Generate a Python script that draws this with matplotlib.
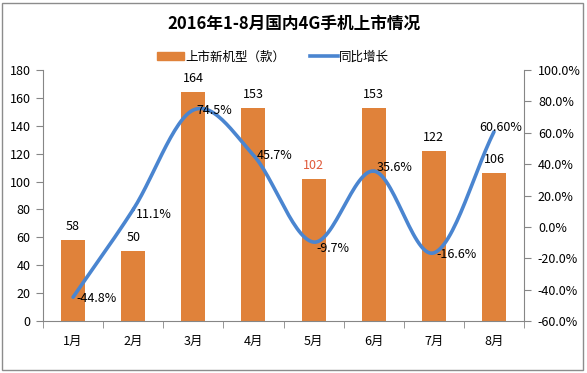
import numpy as np
import matplotlib
matplotlib.use("Agg")
import matplotlib.pyplot as plt
from matplotlib.patches import Rectangle
from matplotlib.lines import Line2D

plt.rcParams['font.family'] = ['Noto Sans CJK SC', 'DejaVu Sans']

months = ["1月", "2月", "3月", "4月", "5月", "6月", "7月", "8月"]
new_models = [58, 50, 164, 153, 102, 153, 122, 106]
growth = [-44.8, 11.1, 74.5, 45.7, -9.7, 35.6, -16.6, 60.6]
growth_labels = ["-44.8%", "11.1%", "74.5%", "45.7%", "-9.7%", "35.6%", "-16.6%", "60.60%"]

bar_color = "#E0823A"
line_color = "#4A85D0"
axis_color = "#868686"


def smooth(xs, ys, n=30):
    # catmull-rom, roughly what excel does for "smoothed line"
    xs = np.asarray(xs, float)
    ys = np.asarray(ys, float)
    px = np.concatenate([[2 * xs[0] - xs[1]], xs, [2 * xs[-1] - xs[-2]]])
    py = np.concatenate([[2 * ys[0] - ys[1]], ys, [2 * ys[-1] - ys[-2]]])
    outx, outy = [], []
    t = np.linspace(0, 1, n)
    for i in range(1, len(px) - 2):
        p0, p1, p2, p3 = px[i - 1], px[i], px[i + 1], px[i + 2]
        q0, q1, q2, q3 = py[i - 1], py[i], py[i + 1], py[i + 2]
        bx = 0.5 * (2 * p1 + (-p0 + p2) * t + (2 * p0 - 5 * p1 + 4 * p2 - p3) * t**2 + (-p0 + 3 * p1 - 3 * p2 + p3) * t**3)
        by = 0.5 * (2 * q1 + (-q0 + q2) * t + (2 * q0 - 5 * q1 + 4 * q2 - q3) * t**2 + (-q0 + 3 * q1 - 3 * q2 + q3) * t**3)
        outx.extend(bx)
        outy.extend(by)
    return np.array(outx), np.array(outy)


fig = plt.figure(figsize=(5.87, 3.73), dpi=100)
fig.patches.append(Rectangle((0.004, 0.008), 0.99, 0.985, transform=fig.transFigure,
                             fill=False, edgecolor="#8C8C8C", linewidth=1.0))

ax = fig.add_axes([0.0733, 0.1394, 0.8194, 0.6729])
x = np.arange(len(months))
ax.bar(x, new_models, width=0.4, color=bar_color, zorder=2)
ax.set_xlim(-0.5, len(months) - 0.5)
ax.set_ylim(0, 180)
ax.set_yticks(range(0, 181, 20))
ax.set_xticks(x)
ax.set_xticklabels(months)
ax.set_xticks(np.arange(-0.5, len(months)), minor=True)
ax.tick_params(axis='x', which='major', length=0, pad=10, labelsize=9)
ax.tick_params(axis='x', which='minor', length=5, color=axis_color, direction='out')
ax.tick_params(axis='y', length=5, color=axis_color, labelsize=9, pad=4)
for s in ["top", "right"]:
    ax.spines[s].set_visible(False)
for s in ["left", "bottom"]:
    ax.spines[s].set_color(axis_color)

for xi, v in zip(x, new_models):
    c = "#E05A3A" if v == 102 else "black"
    ax.text(xi, v + 5, str(v), ha="center", va="bottom", fontsize=9, color=c)

ax2 = ax.twinx()
ax2.set_ylim(-60, 100)
ax2.set_yticks(range(-60, 101, 20))
ax2.set_yticklabels([f"{v:.1f}%" for v in range(-60, 101, 20)])
ax2.tick_params(axis='y', length=5, color=axis_color, labelsize=9, pad=5)
for s in ["top", "left", "bottom"]:
    ax2.spines[s].set_visible(False)
ax2.spines["right"].set_color(axis_color)

sx, sy = smooth(x, growth)
ax2.plot(sx, sy, color=line_color, linewidth=2.6, zorder=3, solid_capstyle="round")

offsets = [(0.05, -1), (0.05, -3), (0.05, 0), (0.05, 0), (0.05, -4), (0.05, 2), (0.05, -1), (-0.25, 3)]
for xi, v, lab, (dx, dy) in zip(x, growth, growth_labels, offsets):
    ax2.text(xi + dx, v + dy, lab, ha="left", va="center", fontsize=9, zorder=4)

fig.text(0.5, 0.935, "2016年1-8月国内4G手机上市情况", ha="center", va="center",
         fontsize=12, fontweight="bold")

handles = [Rectangle((0, 0), 1, 1, color=bar_color),
           Line2D([0], [0], color=line_color, linewidth=2.6)]
fig.legend(handles, ["上市新机型（款）", "同比增长"], loc="center", bbox_to_anchor=(0.465, 0.847),
           ncol=2, frameon=False, fontsize=9, handlelength=2.2, handleheight=0.6,
           columnspacing=2.0, handletextpad=0.1)

fig.savefig("out.png", dpi=100)
